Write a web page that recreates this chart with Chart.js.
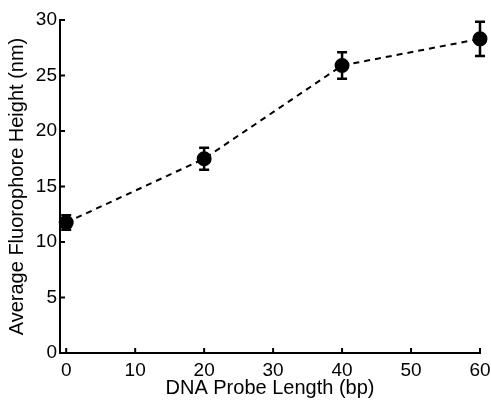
<!DOCTYPE html>
<html>
<head>
<meta charset="utf-8">
<script src="https://cdn.jsdelivr.net/npm/chart.js@4"></script>
<style>
  html, body { margin: 0; padding: 0; background: #fff; }
  #wrap { width: 491px; height: 400px; }
</style>
</head>
<body>
<div id="wrap"><canvas id="heightChart" width="491" height="400"></canvas></div>
<script>
const probeLengths = [0, 20, 40, 60];
const avgHeights = [11.75, 17.5, 25.9, 28.3];
const heightErrors = [0.65, 1.0, 1.2, 1.55];
const xTicks = [0, 10, 20, 30, 40, 50, 60];
const yTicks = [0, 5, 10, 15, 20, 25, 30];

const fontName = '"Liberation Sans", Arial, Helvetica, sans-serif';

// error bars + inward tick marks
const extras = {
  id: 'extras',
  afterDatasetsDraw(chart) {
    const ctx = chart.ctx;
    const xs = chart.scales.x, ys = chart.scales.y;
    ctx.save();
    ctx.strokeStyle = '#000';
    ctx.lineWidth = 2.5;
    probeLengths.forEach((x, i) => {
      const px = xs.getPixelForValue(x);
      const top = ys.getPixelForValue(avgHeights[i] + heightErrors[i]);
      const bot = ys.getPixelForValue(avgHeights[i] - heightErrors[i]);
      ctx.beginPath();
      ctx.moveTo(px, top); ctx.lineTo(px, bot);
      ctx.moveTo(px - 5, top); ctx.lineTo(px + 5, top);
      ctx.moveTo(px - 5, bot); ctx.lineTo(px + 5, bot);
      ctx.stroke();
    });
    ctx.lineWidth = 2;
    const area = chart.chartArea;
    xTicks.forEach(v => {
      const px = xs.getPixelForValue(v);
      ctx.beginPath();
      ctx.moveTo(px, area.bottom); ctx.lineTo(px, area.bottom - 5);
      ctx.stroke();
    });
    yTicks.forEach(v => {
      const py = ys.getPixelForValue(v);
      ctx.beginPath();
      ctx.moveTo(area.left, py); ctx.lineTo(area.left + 5, py);
      ctx.stroke();
    });
    ctx.restore();
  }
};

new Chart(document.getElementById('heightChart'), {
  type: 'scatter',
  data: {
    datasets: [{
      data: probeLengths.map((x, i) => ({ x: x, y: avgHeights[i] })),
      showLine: true,
      borderColor: '#000',
      borderWidth: 2,
      borderDash: [6, 5],
      backgroundColor: '#000',
      pointRadius: 6.5,
      pointHoverRadius: 6.5,
      clip: false
    }]
  },
  options: {
    responsive: false,
    animation: false,
    layout: { padding: { left: 5, right: 11, top: 20, bottom: 0 } },
    plugins: { legend: { display: false }, tooltip: { enabled: false } },
    scales: {
      x: {
        type: 'linear',
        min: -0.9,
        max: 60,
        afterBuildTicks: s => { s.ticks = xTicks.map(v => ({ value: v })); },
        afterFit: s => { s.height = 47; s.paddingLeft = 0; s.paddingRight = 0; },
        border: { display: true, color: '#000', width: 2 },
        grid: { display: false, drawTicks: false },
        ticks: { color: '#000', font: { family: fontName, size: 19 }, padding: 6, maxRotation: 0 },
        title: { display: true, text: 'DNA Probe Length (bp)', color: '#000', font: { family: fontName, size: 20 }, padding: { top: -5, bottom: 0 } }
      },
      y: {
        type: 'linear',
        min: 0,
        max: 30,
        afterBuildTicks: s => { s.ticks = yTicks.map(v => ({ value: v })); },
        afterFit: s => { s.width = 55; s.paddingTop = 0; s.paddingBottom = 0; },
        border: { display: true, color: '#000', width: 2 },
        grid: { display: false, drawTicks: false },
        ticks: { color: '#000', font: { family: fontName, size: 19 }, padding: 3 },
        title: { display: true, text: 'Average Fluorophore Height (nm)', color: '#000', font: { family: fontName, size: 20 }, padding: { top: 0, bottom: 2 } }
      }
    }
  },
  plugins: [extras]
});
</script>
</body>
</html>
